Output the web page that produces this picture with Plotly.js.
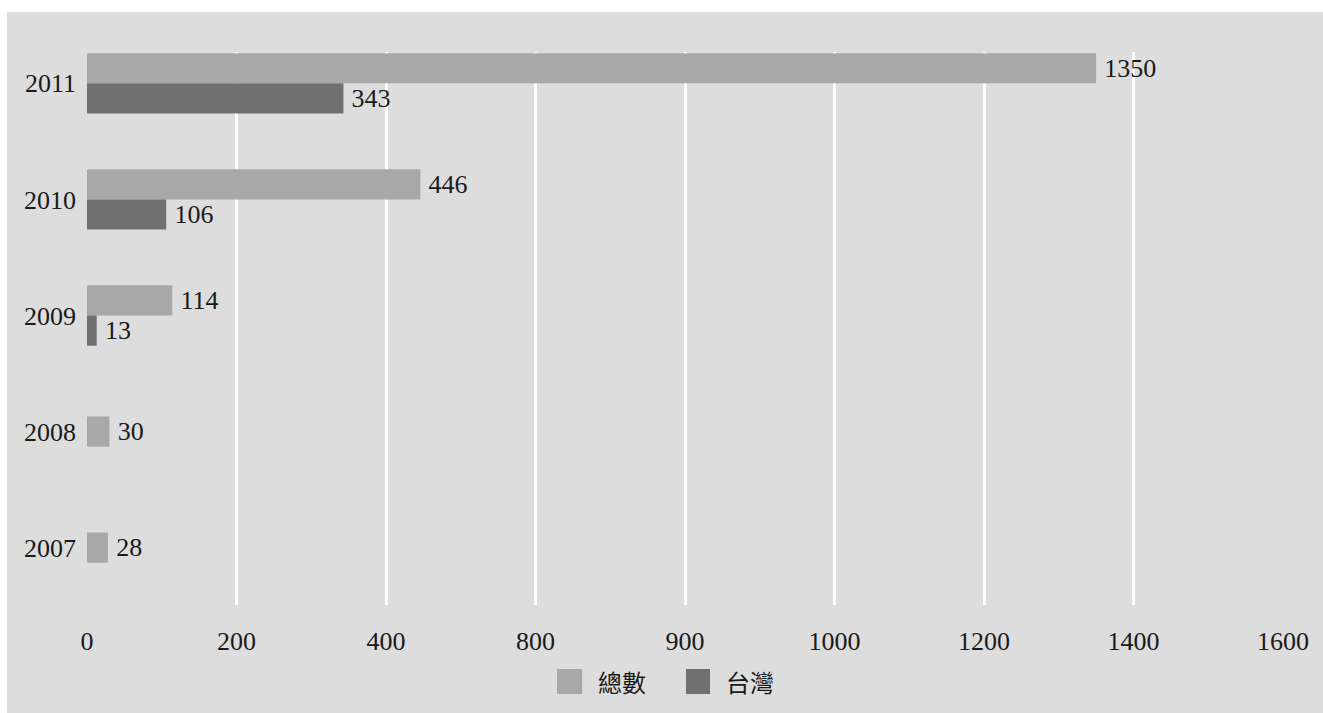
<!DOCTYPE html>
<html>
<head>
<meta charset="utf-8">
<script src="https://cdn.plot.ly/plotly-3.0.1.min.js"></script>
<style>
html,body{margin:0;padding:0;background:#ffffff;}
#chart{position:absolute;left:7px;top:12px;width:1316px;height:701px;}
</style>
</head>
<body>
<div id="chart"></div>
<script>
// Data
const years = ['2007', '2008', '2009', '2010', '2011'];
const totalValues = [28, 30, 114, 446, 1350];
const taiwanValues = [null, null, 13, 106, 343];
const seriesNames = ['總數', '台灣'];
const tickValues = [0, 200, 400, 600, 800, 1000, 1200, 1400, 1600];
const tickLabels = ['0', '200', '400', '800', '900', '1000', '1200', '1400', '1600'];

const colors = ['#a8a8a8', '#707070'];
const barW = 0.26;
const serif = 'Liberation Serif, Times New Roman, serif';
const cjk = 'Noto Sans CJK TC, Noto Sans, sans-serif';

// 總數 sits above 台灣; centred when 台灣 is missing
const totalOffsets = taiwanValues.map(v => (v === null ? -barW / 2 : 0));

const traces = [
  {
    type: 'bar', orientation: 'h', name: seriesNames[0],
    y: years, x: totalValues,
    width: barW, offset: totalOffsets,
    marker: {color: colors[0]},
    texttemplate: '\u2009%{x}',
    textposition: 'outside', constraintext: 'none', cliponaxis: false,
    textfont: {family: serif, size: 26, color: '#1a1a1a'},
    showlegend: false, hoverinfo: 'x+name'
  },
  {
    type: 'bar', orientation: 'h', name: seriesNames[1],
    y: years, x: taiwanValues,
    width: barW, offset: -barW,
    marker: {color: colors[1]},
    texttemplate: '\u2009%{x}',
    textposition: 'outside', constraintext: 'none', cliponaxis: false,
    textfont: {family: serif, size: 26, color: '#1a1a1a'},
    showlegend: false, hoverinfo: 'x+name'
  }
];

// custom legend (positions in paper coords)
const legendItems = [
  {sq: [0.393, 0.414], tx: 0.4256},
  {sq: [0.5008, 0.5209], tx: 0.5326}
];
const shapes = legendItems.map((it, i) => ({
  type: 'rect', xref: 'paper', yref: 'paper',
  x0: it.sq[0], x1: it.sq[1], y0: -0.1157, y1: -0.161,
  fillcolor: colors[i], line: {width: 0}
}));
const annotations = legendItems.map((it, i) => ({
  xref: 'paper', yref: 'paper', x: it.tx, y: -0.138,
  xanchor: 'left', yanchor: 'middle', showarrow: false,
  text: seriesNames[i],
  font: {family: cjk, size: 24, color: '#1a1a1a'}
}));

const layout = {
  width: 1316, height: 701,
  paper_bgcolor: '#dddddd', plot_bgcolor: '#dddddd',
  margin: {l: 80, r: 40, t: 40, b: 108},
  barmode: 'overlay',
  showlegend: false,
  xaxis: {
    range: [0, 1600], tickvals: tickValues, ticktext: tickLabels,
    showgrid: true, gridcolor: '#ffffff', gridwidth: 3,
    zeroline: false, showline: false, ticks: '',
    ticklabelstandoff: 18,
    tickfont: {family: serif, size: 26, color: '#1a1a1a'}
  },
  yaxis: {
    type: 'category', categoryorder: 'array', categoryarray: years,
    range: [-0.494, 4.27],
    showgrid: false, zeroline: false, showline: false, ticks: '',
    ticklabelstandoff: 10,
    tickfont: {family: serif, size: 26, color: '#1a1a1a'}
  },
  shapes: shapes,
  annotations: annotations
};

Plotly.newPlot('chart', traces, layout, {displayModeBar: false, staticPlot: true});
</script>
</body>
</html>
